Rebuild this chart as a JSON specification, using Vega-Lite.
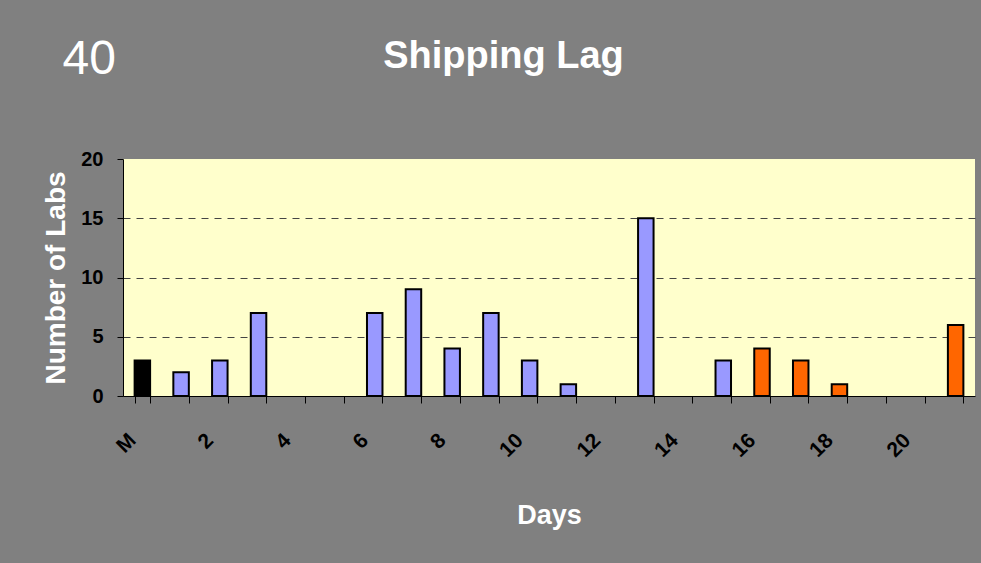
{
  "$schema": "https://vega.github.io/schema/vega-lite/v6.json",
  "autosize": {"type": "none"},
  "width": 852,
  "height": 237,
  "padding": {"left": 123, "top": 159, "right": 6, "bottom": 167},
  "background": "#808080",
  "title": {
    "text": "Shipping Lag",
    "anchor": "middle",
    "frame": "group",
    "dx": -45.5,
    "offset": -71,
    "baseline": "alphabetic",
    "font": "Liberation Sans",
    "fontSize": 38,
    "fontWeight": "bold",
    "color": "#FFFFFF"
  },
  "data": {
    "values": [
      {"Day": "M", "Labs": 3, "Group": "M"},
      {"Day": "1", "Labs": 2, "Group": "Normal"},
      {"Day": "2", "Labs": 3, "Group": "Normal"},
      {"Day": "3", "Labs": 7, "Group": "Normal"},
      {"Day": "4", "Labs": 0, "Group": "Normal"},
      {"Day": "5", "Labs": 0, "Group": "Normal"},
      {"Day": "6", "Labs": 7, "Group": "Normal"},
      {"Day": "7", "Labs": 9, "Group": "Normal"},
      {"Day": "8", "Labs": 4, "Group": "Normal"},
      {"Day": "9", "Labs": 7, "Group": "Normal"},
      {"Day": "10", "Labs": 3, "Group": "Normal"},
      {"Day": "11", "Labs": 1, "Group": "Normal"},
      {"Day": "12", "Labs": 0, "Group": "Normal"},
      {"Day": "13", "Labs": 15, "Group": "Normal"},
      {"Day": "14", "Labs": 0, "Group": "Normal"},
      {"Day": "15", "Labs": 3, "Group": "Normal"},
      {"Day": "16", "Labs": 4, "Group": "Late"},
      {"Day": "17", "Labs": 3, "Group": "Late"},
      {"Day": "18", "Labs": 1, "Group": "Late"},
      {"Day": "19", "Labs": 0, "Group": "Late"},
      {"Day": "20", "Labs": 0, "Group": "Late"},
      {"Day": "21", "Labs": 6, "Group": "Late"}
    ]
  },
  "layer": [
    {
      "mark": {"type": "bar", "stroke": "#000000"},
      "encoding": {
        "x": {
          "field": "Day",
          "type": "nominal",
          "sort": null,
          "scale": {
            "domain": ["M","1","2","3","4","5","6","7","8","9","10","11","12","13","14","15","16","17","18","19","20","21"],
            "paddingInner": 0.6,
            "paddingOuter": 0.3
          },
          "axis": {
            "orient": "bottom",
            "title": "Days",
            "titleFont": "Liberation Sans",
            "titleFontSize": 27,
            "titleFontWeight": "bold",
            "titleColor": "#FFFFFF",
            "titleBaseline": "alphabetic",
            "titleY": 127,
            "labelExpr": "datum.value === 'M' || toNumber(datum.value) % 2 === 0 ? datum.label : ''",
            "labelAngle": -45,
            "labelAlign": "right",
            "labelBaseline": "middle",
            "labelPadding": 34,
            "labelOffset": -10,
            "labelOverlap": false,
            "labelFont": "Liberation Sans",
            "labelFontSize": 21,
            "labelFontWeight": "bold",
            "labelColor": "#000000",
            "tickBand": "extent",
            "tickSize": 7,
            "tickColor": "#000000",
            "domainColor": "#000000",
            "grid": false
          }
        },
        "y": {
          "field": "Labs",
          "type": "quantitative",
          "scale": {"domain": [0, 20], "nice": false},
          "axis": {
            "values": [0, 5, 10, 15, 20],
            "title": "Number of Labs",
            "titleFont": "Liberation Sans",
            "titleFontSize": 28,
            "titleFontWeight": "bold",
            "titleColor": "#FFFFFF",
            "titleBaseline": "alphabetic",
            "titleX": -59,
            "labelFont": "Liberation Sans",
            "labelFontSize": 20,
            "labelFontWeight": "bold",
            "labelColor": "#000000",
            "labelPadding": 14,
            "tickSize": 6,
            "tickColor": "#000000",
            "domainColor": "#000000",
            "grid": true,
            "gridColor": "#444444",
            "gridDash": [7, 6],
            "gridOpacity": {"condition": {"test": "datum.value === 20 || datum.value === 0", "value": 0}, "value": 1}
          }
        },
        "color": {
          "field": "Group",
          "type": "nominal",
          "scale": {"domain": ["M", "Normal", "Late"], "range": ["#000000", "#9999FF", "#FF6600"]},
          "legend": null
        },
        "strokeWidth": {"condition": {"test": "datum.Labs === 0", "value": 0}, "value": 2}
      }
    },
    {
      "mark": {"type": "rule", "opacity": 0},
      "encoding": {
        "x": {
          "field": "Day",
          "type": "nominal",
          "sort": null,
          "axis": {
            "orient": "top",
            "title": "40",
            "titleFont": "Liberation Sans",
            "titleFontSize": 48,
            "titleFontWeight": "normal",
            "titleColor": "#FFFFFF",
            "titleAlign": "left",
            "titleAnchor": "start",
            "titleBaseline": "alphabetic",
            "titleX": -61,
            "titleY": -86,
            "labels": false,
            "ticks": false,
            "domain": false,
            "grid": false
          }
        }
      }
    }
  ],
  "resolve": {"axis": {"x": "independent"}},
  "config": {
    "view": {"fill": "#FFFFCC", "stroke": null},
    "font": "Liberation Sans"
  }
}
